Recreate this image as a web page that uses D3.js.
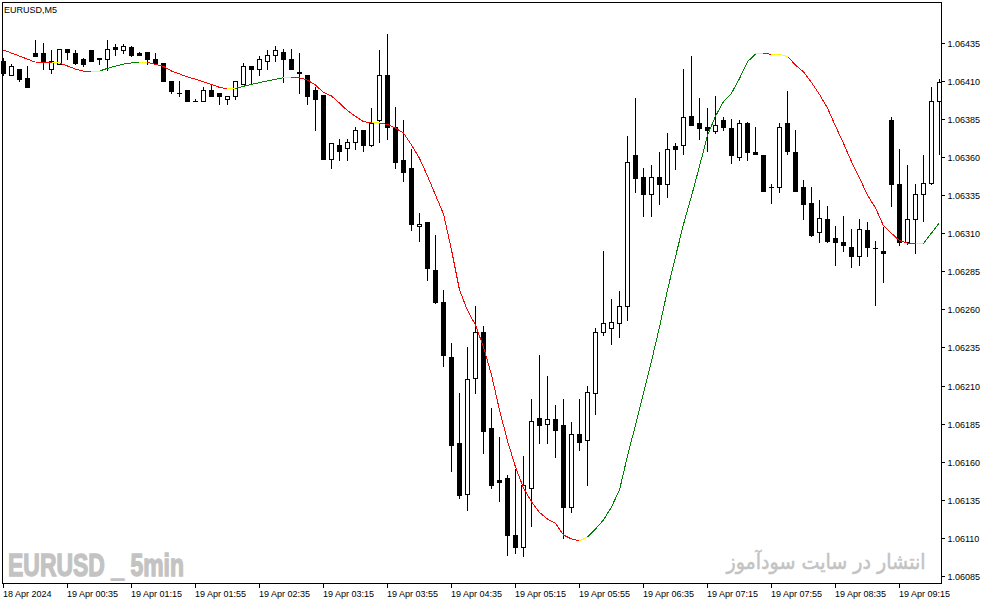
<!DOCTYPE html>
<html><head><meta charset="utf-8">
<script src="https://cdn.jsdelivr.net/npm/d3@7"></script>
<style>html,body{margin:0;padding:0;background:#fff;}svg{display:block;}</style>
</head><body>
<svg id="c" width="987" height="605"></svg>
<script>
const symbolLabel = "EURUSD,M5";
const openP = [
1.06423,1.06414,1.06418,1.06412,1.06428,1.06428,1.06418,1.06421,1.06431,1.06428,
1.06424,1.06430,1.06425,1.06424,1.06432,1.06430,1.06432,1.06428,1.06429,1.06424,
1.06422,1.06410,1.06402,1.06404,1.06397,1.06397,1.06404,1.06402,1.06398,1.06400,
1.06408,1.06420,1.06418,1.06423,1.06427,1.06429,1.06424,1.06416,1.06414,1.06404,
1.06401,1.06359,1.06368,1.06366,1.06370,1.06378,1.06368,1.06384,1.06414,1.06380,
1.06358,1.06353,1.06315,1.06317,1.06286,1.06265,1.06229,1.06172,1.06139,1.06215,
1.06245,1.06182,1.06148,1.06149,1.06112,1.06104,1.06143,1.06189,1.06185,1.06188,
1.06184,1.06130,1.06178,1.06174,1.06205,1.06245,1.06248,1.06251,1.06262,1.06361,
1.06347,1.06336,1.06347,1.06342,1.06367,1.06368,1.06387,1.06382,1.06380,1.06377,
1.06384,1.06379,1.06360,1.06382,1.06363,1.06361,1.06340,1.06340,1.06382,1.06363,
1.06340,1.06330,1.06311,1.06319,1.06307,1.06304,1.06301,1.06295,1.06312,1.06300,
1.06298,1.06384,1.06342,1.06304,1.06319,1.06336,1.06343,1.06397];
const highP = [
1.06425,1.06421,1.06418,1.06420,1.06437,1.06435,1.06430,1.06431,1.06431,1.06430,
1.06425,1.06430,1.06425,1.06437,1.06434,1.06434,1.06433,1.06429,1.06429,1.06428,
1.06422,1.06410,1.06410,1.06404,1.06398,1.06406,1.06407,1.06402,1.06400,1.06410,
1.06422,1.06420,1.06426,1.06430,1.06433,1.06431,1.06431,1.06428,1.06414,1.06406,
1.06401,1.06369,1.06372,1.06372,1.06380,1.06378,1.06392,1.06430,1.06441,1.06393,
1.06384,1.06365,1.06323,1.06317,1.06309,1.06273,1.06238,1.06205,1.06235,1.06262,
1.06249,1.06195,1.06176,1.06151,1.06155,1.06164,1.06201,1.06230,1.06216,1.06197,
1.06201,1.06186,1.06201,1.06210,1.06248,1.06298,1.06267,1.06272,1.06374,1.06399,
1.06353,1.06355,1.06363,1.06376,1.06369,1.06418,1.06426,1.06399,1.06392,1.06400,
1.06386,1.06385,1.06384,1.06383,1.06380,1.06361,1.06342,1.06382,1.06403,1.06378,
1.06345,1.06340,1.06332,1.06328,1.06315,1.06321,1.06313,1.06319,1.06317,1.06305,
1.06314,1.06386,1.06365,1.06355,1.06342,1.06361,1.06406,1.06411];
const lowP = [
1.06414,1.06414,1.06410,1.06406,1.06426,1.06418,1.06415,1.06421,1.06424,1.06421,
1.06420,1.06423,1.06421,1.06417,1.06427,1.06428,1.06426,1.06427,1.06421,1.06421,
1.06410,1.06402,1.06400,1.06397,1.06397,1.06397,1.06400,1.06395,1.06395,1.06398,
1.06408,1.06408,1.06414,1.06418,1.06423,1.06409,1.06418,1.06402,1.06395,1.06378,
1.06359,1.06353,1.06358,1.06358,1.06365,1.06364,1.06367,1.06370,1.06372,1.06353,
1.06344,1.06312,1.06305,1.06279,1.06264,1.06223,1.06154,1.06136,1.06128,1.06205,
1.06166,1.06143,1.06134,1.06099,1.06100,1.06098,1.06118,1.06172,1.06172,1.06163,
1.06110,1.06127,1.06168,1.06145,1.06191,1.06243,1.06237,1.06242,1.06253,1.06337,
1.06321,1.06321,1.06329,1.06334,1.06352,1.06362,1.06381,1.06372,1.06364,1.06376,
1.06378,1.06356,1.06358,1.06358,1.06362,1.06338,1.06330,1.06337,1.06362,1.06338,
1.06319,1.06308,1.06304,1.06304,1.06289,1.06298,1.06288,1.06289,1.06295,1.06263,
1.06278,1.06328,1.06302,1.06303,1.06297,1.06318,1.06342,1.06362];
const closeP = [
1.06415,1.06420,1.06411,1.06406,1.06426,1.06423,1.06423,1.06431,1.06429,1.06422,
1.06421,1.06423,1.06424,1.06431,1.06431,1.06433,1.06427,1.06427,1.06424,1.06422,
1.06410,1.06403,1.06402,1.06397,1.06397,1.06404,1.06400,1.06400,1.06400,1.06410,
1.06420,1.06418,1.06424,1.06427,1.06430,1.06424,1.06418,1.06415,1.06400,1.06398,
1.06359,1.06369,1.06364,1.06370,1.06378,1.06368,1.06382,1.06414,1.06380,1.06357,
1.06350,1.06316,1.06316,1.06287,1.06265,1.06230,1.06171,1.06138,1.06214,1.06245,
1.06180,1.06145,1.06147,1.06112,1.06104,1.06145,1.06187,1.06184,1.06188,1.06181,
1.06130,1.06178,1.06173,1.06206,1.06245,1.06251,1.06252,1.06262,1.06357,1.06346,
1.06336,1.06347,1.06342,1.06365,1.06365,1.06386,1.06381,1.06379,1.06378,1.06381,
1.06380,1.06361,1.06382,1.06363,1.06362,1.06338,1.06340,1.06380,1.06364,1.06338,
1.06329,1.06309,1.06320,1.06305,1.06304,1.06302,1.06295,1.06313,1.06301,1.06300,
1.06297,1.06342,1.06304,1.06319,1.06336,1.06343,1.06397,1.06409];
const maValues = [
1.064302,1.064282,1.064262,1.064242,1.064221,1.064221,1.064217,1.064217,1.064197,1.064177,
1.064164,1.064162,1.064164,1.064182,1.064196,1.064210,1.064217,1.064221,1.064220,1.064208,
1.064194,1.064164,1.064145,1.064125,1.064110,1.064094,1.064076,1.064057,1.064046,1.064049,
1.064064,1.064077,1.064088,1.064099,1.064110,1.064120,1.064123,1.064120,1.064105,1.064072,
1.064023,1.064000,1.063954,1.063904,1.063866,1.063832,1.063823,1.063823,1.063813,1.063790,
1.063757,1.063679,1.063591,1.063475,1.063350,1.063226,1.062990,1.062727,1.062593,1.062497,
1.062353,1.062169,1.061940,1.061736,1.061565,1.061428,1.061336,1.061267,1.061224,1.061195,
1.061119,1.061093,1.061080,1.061106,1.061159,1.061218,1.061303,1.061415,1.061638,1.061841,
1.062051,1.062261,1.062484,1.062727,1.062946,1.063158,1.063343,1.063539,1.063741,1.063868,
1.063963,1.064018,1.064115,1.064225,1.064276,1.064281,1.064273,1.064274,1.064259,1.064204,
1.064158,1.064089,1.064010,1.063921,1.063803,1.063689,1.063569,1.063462,1.063350,1.063265,
1.063149,1.063099,1.063051,1.063035,1.063031,1.063031,1.063101,1.063169];
// colour state of the MA segment ending at each bar: r = falling, g = rising, y = turning
const maColorRuns = [["r",7],["y",1],["r",4],["y",1],["g",5],["y",1],["r",10],["y",1],["g",6],["y",1],
  ["r",10],["y",1],["r",25],["y",1],["g",21],["y",1],["r",1],["y",2],["r",16],["y",1],["g",2]];
const timeLabels = ["18 Apr 2024","19 Apr 00:35","19 Apr 01:15","19 Apr 01:55","19 Apr 02:35","19 Apr 03:15",
  "19 Apr 03:55","19 Apr 04:35","19 Apr 05:15","19 Apr 05:55","19 Apr 06:35","19 Apr 07:15","19 Apr 07:55",
  "19 Apr 08:35","19 Apr 09:15"];
const timeLabelBars = [0,8,16,24,32,40,48,56,64,72,80,88,96,104,112];
const priceTicks = [1.06085,1.06110,1.06135,1.06160,1.06185,1.06210,1.06235,1.06260,1.06285,1.06310,
  1.06335,1.06360,1.06385,1.06410,1.06435];
const watermarkLeft = "EURUSD _ 5min";
const watermarkRight = "انتشار در سایت سودآموز";

const maColor = [];
maColorRuns.forEach(([c,n]) => { for (let k=0;k<n;k++) maColor.push(c); });
const colorMap = {r:"#ff0000", g:"#008000", y:"#ffff00"};

const svg = d3.select("#c");
const frame = {left:2, top:2, right:941, bottom:583};
const n = openP.length;
const x = d3.scaleLinear().domain([0, n-1]).range([3, 939]);
const y = d3.scaleLinear().domain([1.06085, 1.06435]).range([576, 42.7]);
const X = i => Math.round(x(i));
const Y = v => Math.round(y(v));

svg.append("rect").attr("width",987).attr("height",605).attr("fill","#fff");

const plot = svg.append("g").attr("shape-rendering","crispEdges");

// watermarks
svg.append("text").attr("x",8).attr("y",576)
  .attr("font-family","Liberation Sans, Arial, sans-serif").attr("font-weight","bold")
  .attr("font-size",32).attr("fill","#c3c3c3").attr("stroke","#c3c3c3").attr("stroke-width",1.4)
  .attr("textLength",176).attr("lengthAdjust","spacingAndGlyphs").text(watermarkLeft);
svg.append("text").attr("x",826).attr("y",569).attr("text-anchor","middle")
  .attr("font-family","DejaVu Sans, sans-serif").attr("font-size",21).attr("fill","#c3c3c3")
  .attr("stroke","#c3c3c3").attr("stroke-width",0.5)
  .attr("textLength",199).attr("lengthAdjust","spacingAndGlyphs").text(watermarkRight);

// candles
const idx = d3.range(n);
const cg = plot.append("g");
idx.forEach(i => {
  const cx = X(i);
  const o = openP[i], c = closeP[i];
  const yh = Y(highP[i]), yl = Y(lowP[i]);
  cg.append("rect").attr("x",cx).attr("y",yh).attr("width",1).attr("height",yl-yh+1).attr("fill","#000");
  const top = Y(Math.max(o,c)), bot = Y(Math.min(o,c));
  if (bot - top < 1) {
    cg.append("rect").attr("x",cx-2).attr("y",top).attr("width",5).attr("height",1).attr("fill","#000");
  } else {
    cg.append("rect").attr("x",cx-1.5).attr("y",top+0.5).attr("width",4).attr("height",bot-top)
      .attr("fill", c > o ? "#fff" : "#000").attr("stroke","#000").attr("stroke-width",1);
  }
});

// MA line
const mg = svg.append("g").attr("shape-rendering","crispEdges");
for (let i=1;i<n;i++){
  mg.append("line")
    .attr("x1",x(i-1)+0.5).attr("y1",y(maValues[i-1]))
    .attr("x2",x(i)+0.5).attr("y2",y(maValues[i]))
    .attr("stroke",colorMap[maColor[i]]).attr("stroke-width",1);
}

// frame
svg.append("rect").attr("x",frame.left+0.5).attr("y",frame.top+0.5)
  .attr("width",frame.right-frame.left).attr("height",frame.bottom-frame.top)
  .attr("fill","none").attr("stroke","#000").attr("shape-rendering","crispEdges");

// right price axis
const ax = svg.append("g").attr("font-family","Liberation Sans, Arial, sans-serif").attr("font-size",9).attr("fill","#000");
priceTicks.forEach(t => {
  const yy = Y(t);
  ax.append("rect").attr("x",frame.right+1).attr("y",yy).attr("width",3).attr("height",1).attr("fill","#000").attr("shape-rendering","crispEdges");
  ax.append("text").attr("x",947.5).attr("y",yy+3.5).text(t.toFixed(5));
});

// bottom time axis
timeLabelBars.forEach((b,k) => {
  const xx = X(b);
  ax.append("rect").attr("x",xx).attr("y",frame.bottom+1).attr("width",1).attr("height",4).attr("fill","#000").attr("shape-rendering","crispEdges");
  ax.append("text").attr("x",xx).attr("y",597).text(timeLabels[k]);
});

// symbol label
ax.append("text").attr("x",4).attr("y",13).text(symbolLabel);
</script>
</body></html>
